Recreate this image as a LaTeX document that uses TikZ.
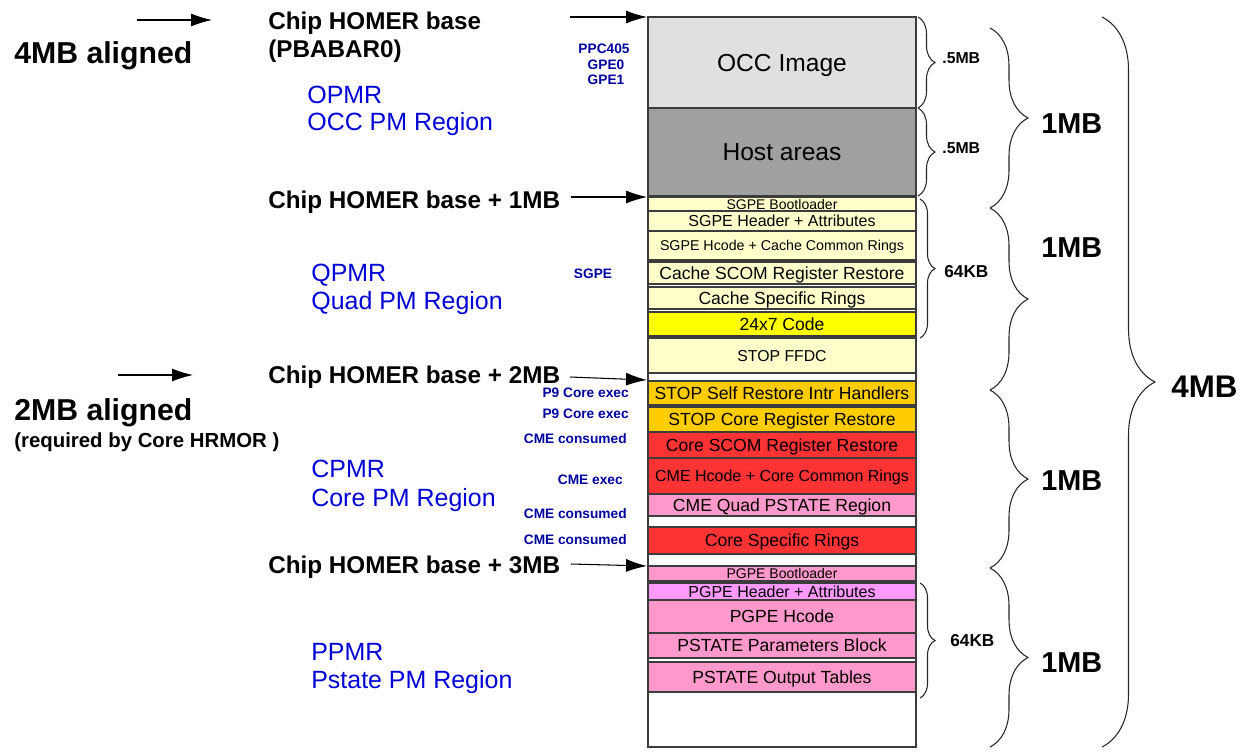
\documentclass[tikz,border=0pt]{standalone}
\usepackage{fontspec}
\setmainfont{Liberation Sans}
\usetikzlibrary{arrows.meta,decorations.pathreplacing}

\definecolor{occgray}{RGB}{224,224,224}
\definecolor{hostgray}{RGB}{160,160,160}
\definecolor{lyel}{RGB}{255,255,204}
\definecolor{yel}{RGB}{255,255,0}
\definecolor{orng}{RGB}{255,204,0}
\definecolor{redc}{RGB}{255,51,51}
\definecolor{pinkc}{RGB}{255,153,204}
\definecolor{violc}{RGB}{255,153,255}
\definecolor{rowline}{RGB}{60,60,60}
\definecolor{regblue}{RGB}{0,0,215}
\definecolor{unitblue}{RGB}{0,0,160}

\newcommand{\fsz}[1]{\fontsize{#1}{#1}\selectfont}

\begin{document}
\begin{tikzpicture}[x=0.02cm,y=-0.02cm,
  tx/.style={inner sep=0pt,font=\fsz{#1},yshift={-0.358*#1*1pt},anchor=base},
  bx/.style={tx=#1,font=\bfseries\fsz{#1}},
  addr/.style={bx=13.8,anchor=base west},
  region/.style={tx=14.2,text=regblue,anchor=base west},
  unit/.style={bx=7.8,text=unitblue},
  szlbl/.style={bx=#1,anchor=base west},
  ptr/.style={-{Latex[length=0.42cm,width=0.26cm]},line width=0.6pt},
  brc/.style={decorate,decoration={brace,amplitude=#1},line width=0.6pt,draw=black!85}]
\fill[white] (0,0) rectangle (1240,751);
\useasboundingbox (0,0) rectangle (1240,751);

% memory map rows
\foreach \ya/\yb/\c/\f/\t [count=\i] in {
  17/108/occgray/14/OCC Image,
  108/196/hostgray/14/Host areas,
  197/211/lyel/8/SGPE Bootloader,
  211/231/lyel/9.1/SGPE Header + Attributes,
  231/260/lyel/8.1/SGPE Hcode + Cache Common Rings,
  262/284/lyel/10/Cache SCOM Register Restore,
  287/309/lyel/10/Cache Specific Rings,
  312/336/yel/10/24x7 Code,
  338/373/lyel/9/STOP FFDC,
  381/405/orng/10/STOP Self Restore Intr Handlers,
  407/432/orng/10/STOP Core Register Restore,
  432/458/redc/10/Core SCOM Register Restore,
  458/494/redc/9.1/CME Hcode + Core Common Rings,
  494/516/pinkc/10/CME Quad PSTATE Region,
  527/554/redc/10/Core Specific Rings,
  566/581/pinkc/8/PGPE Bootloader,
  583/600/violc/9.1/PGPE Header + Attributes,
  600/633/pinkc/10/PGPE Hcode,
  633/658/pinkc/10/PSTATE Parameters Block,
  662/692/pinkc/10/PSTATE Output Tables}{
  \draw[fill=\c,draw=rowline,line width=0.6pt] (648,\ya) rectangle (916,\yb);
  \node[tx=\f] (row\i) at (782,{(\ya+\yb)/2}) {\t};
}
\draw[draw=rowline,line width=0.6pt] (648,17) rectangle (916,747);

% address pointers
\foreach \n/\xa/\ya/\xb/\yb in {0/137/20/212/20, 1/570/17/647/17, 2/571/197/647/197,
  3/118/375/193/375, 4/570/377/647/380, 5/571/564/647/566}{
  \coordinate (s\n) at (\xa,\ya);
  \coordinate (e\n) at (\xb,\yb);
  \draw[ptr] (s\n) -- (e\n);
}

% left side labels
\node[szlbl=17.2] (al4) at (14,53) {4MB aligned};
\node[szlbl=17.2] (al2) at (14,410) {2MB aligned};
\node[szlbl=11.6] (hrmor) at (14,440) {(required by Core HRMOR )};
\node[addr] (base0) at (268,21) {Chip HOMER base};
\node[addr] (pbabar) at (268,49) {(PBABAR0)};
\node[addr] (base1) at (268,200) {Chip HOMER base + 1MB};
\node[addr] (base2) at (268,375) {Chip HOMER base + 2MB};
\node[addr] (base3) at (268,565) {Chip HOMER base + 3MB};

\node[region] (opmr) at (307,95) {OPMR};
\node[region] (opmrn) at (307,122) {OCC PM Region};
\node[region] (qpmr) at (311,273) {QPMR};
\node[region] (qpmrn) at (311,301) {Quad PM Region};
\node[region] (cpmr) at (311,469) {CPMR};
\node[region] (cpmrn) at (311,498) {Core PM Region};
\node[region] (ppmr) at (311,652) {PPMR};
\node[region] (ppmrn) at (311,680) {Pstate PM Region};

% engines using each area
\node[unit] (ppc) at (604,49) {PPC405};
\node[unit] (gpe0) at (606,65) {GPE0};
\node[unit] (gpe1) at (606,80) {GPE1};
\node[unit] (sgpe) at (593,274) {SGPE};
\node[unit,anchor=base east] (p9a) at (629,393) {P9 Core exec};
\node[unit,anchor=base east] (p9b) at (629,414) {P9 Core exec};
\node[unit,anchor=base east] (cmea) at (627,439) {CME consumed};
\node[unit,anchor=base east] (cmex) at (623,480) {CME exec};
\node[unit,anchor=base east] (cmeb) at (627,514) {CME consumed};
\node[unit,anchor=base east] (cmec) at (627,540) {CME consumed};

% size braces
\draw[brc=0.34cm] (918,17) -- (918,108);
\draw[brc=0.34cm] (918,108) -- (918,196);
\draw[brc=0.30cm] (920,199) -- (920,338);
\draw[brc=0.30cm] (920,583) -- (920,698);
\foreach \ya/\yb in {28/208, 208/390, 390/568, 568/747}
  \draw[brc=0.76cm] (990,\ya) -- (990,\yb);
\draw[brc=1.06cm] (1102,17) -- (1102,747);

\node[szlbl=9] (half1) at (942,58) {.5MB};
\node[szlbl=9] (half2) at (942,148) {.5MB};
\node[szlbl=9.8] (kb1) at (944,271) {64KB};
\node[szlbl=9.8] (kb2) at (950,640) {64KB};
\node[szlbl=16.4] (mb1) at (1041,123) {1MB};
\node[szlbl=16.4] (mb2) at (1041,247) {1MB};
\node[szlbl=16.4] (mb3) at (1041,480) {1MB};
\node[szlbl=16.4] (mb4) at (1041,662) {1MB};
\node[szlbl=17.8] (mb4all) at (1171,386) {4MB};
\end{tikzpicture}
\end{document}
